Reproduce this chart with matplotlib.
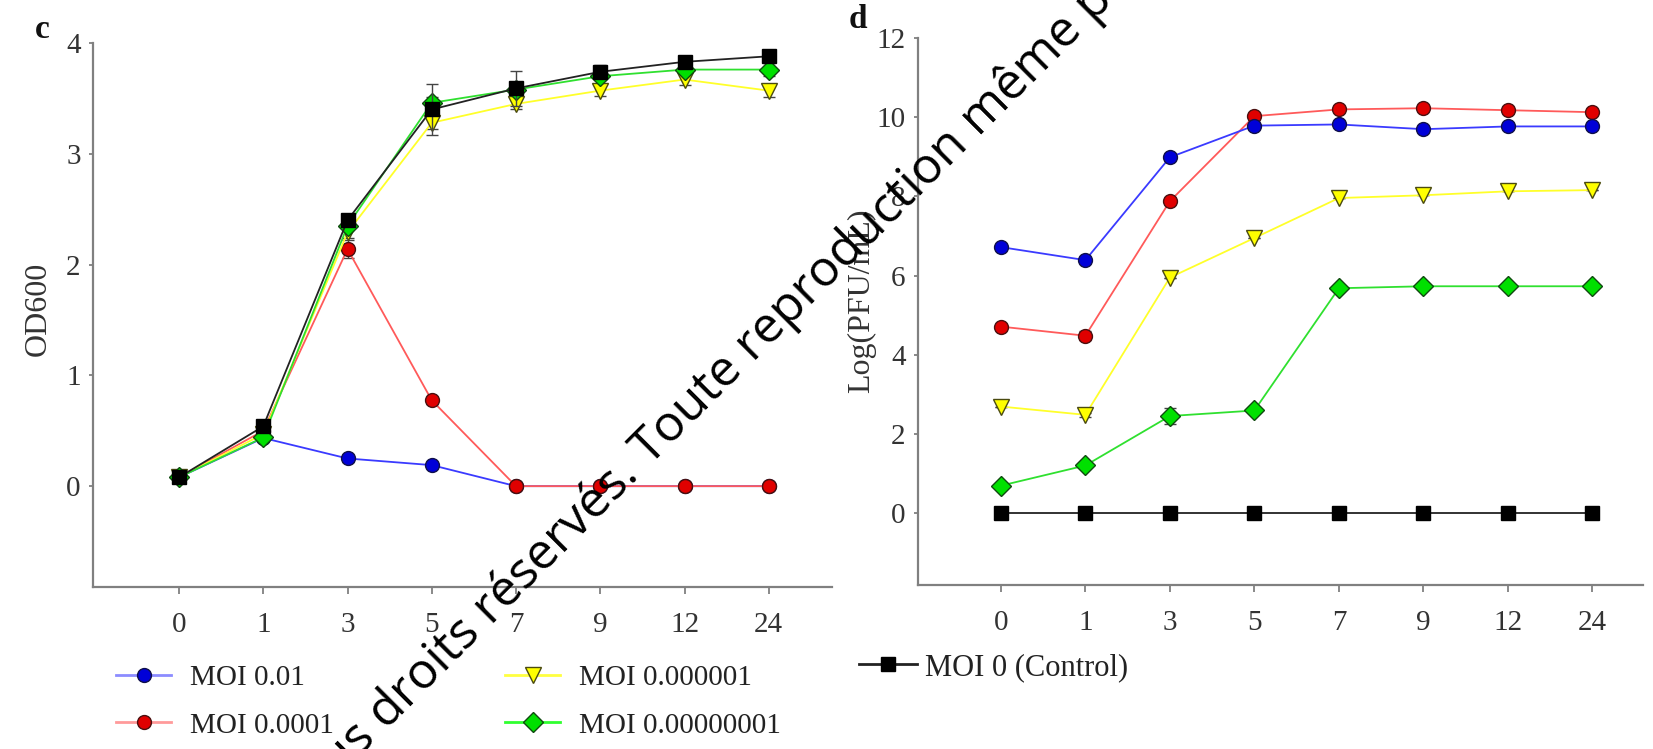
import numpy as np
import matplotlib
matplotlib.use("Agg")
import matplotlib.pyplot as plt
from matplotlib.lines import Line2D

# Sampling times (h), shown as evenly spaced categories
times = ["0", "1", "3", "5", "7", "9", "12", "24"]

series_names = ["MOI 0.01", "MOI 0.0001", "MOI 0.000001", "MOI 0.00000001"]
control_name = "MOI 0 (Control)"

# Panel c: bacterial growth (OD600)
od_moi_001 = [0.08, 0.435, 0.25, 0.19, 0.0, 0.0, 0.0, 0.0]
od_moi_00001 = [0.08, 0.50, 2.14, 0.775, 0.0, 0.0, 0.0, 0.0]
od_moi_1e6 = [0.08, 0.47, 2.29, 3.28, 3.45, 3.57, 3.67, 3.57]
od_moi_1e8 = [0.08, 0.44, 2.35, 3.46, 3.58, 3.70, 3.76, 3.76]
od_control = [0.08, 0.54, 2.40, 3.40, 3.59, 3.74, 3.83, 3.88]

od_err_001 = [0.0, 0.02, 0.03, 0.02, 0.0, 0.0, 0.0, 0.0]
od_err_00001 = [0.0, 0.02, 0.08, 0.03, 0.0, 0.0, 0.0, 0.0]
od_err_1e6 = [0.0, 0.02, 0.05, 0.06, 0.05, 0.05, 0.05, 0.06]
od_err_1e8 = [0.0, 0.02, 0.04, 0.05, 0.04, 0.03, 0.03, 0.06]
od_err_control = [0.0, 0.03, 0.04, 0.23, 0.16, 0.06, 0.04, 0.03]

# Panel d: phage titre, log(PFU/mL)
pfu_moi_001 = [6.72, 6.39, 8.99, 9.79, 9.82, 9.70, 9.77, 9.77]
pfu_moi_00001 = [4.71, 4.48, 7.88, 10.03, 10.20, 10.23, 10.18, 10.13]
pfu_moi_1e6 = [2.69, 2.48, 5.95, 6.95, 7.96, 8.03, 8.13, 8.16]
pfu_moi_1e8 = [0.69, 1.20, 2.45, 2.59, 5.68, 5.73, 5.73, 5.73]
pfu_control = [0.0, 0.0, 0.0, 0.0, 0.0, 0.0, 0.0, 0.0]

pfu_err_001 = [0.0, 0.0, 0.0, 0.0, 0.0, 0.0, 0.0, 0.0]
pfu_err_00001 = [0.0, 0.12, 0.0, 0.0, 0.0, 0.0, 0.0, 0.0]
pfu_err_1e6 = [0.0, 0.05, 0.0, 0.0, 0.0, 0.0, 0.0, 0.0]
pfu_err_1e8 = [0.0, 0.0, 0.2, 0.0, 0.0, 0.0, 0.0, 0.0]
pfu_err_control = [0.0, 0.0, 0.0, 0.0, 0.0, 0.0, 0.0, 0.0]

# Styling per series: (line colour, marker, marker face, marker edge, legend line)
styles = [
    ("#3a3aff", "o", "#0000d8", "#10104a", "#8c8cff"),
    ("#ff5a5a", "o", "#e00000", "#4a1010", "#ff9a9a"),
    ("#ffff2a", "v", "#ffff00", "#4a4a10", "#ffff40"),
    ("#2fe02f", "D", "#00e000", "#104a10", "#30ff30"),
]
control_style = ("#222222", "s", "#000000", "#000000", "#222222")

serif = ["Liberation Serif", "DejaVu Serif"]
plt.rcParams["font.family"] = serif

fig = plt.figure(figsize=(16.53, 7.49), dpi=100)
axL = fig.add_axes([0.0563, 0.2163, 0.447, 0.7263])
axR = fig.add_axes([0.5554, 0.219, 0.4386, 0.730])

x = np.arange(len(times))


def marker_size(style):
    return 11 if style[1] == "v" else (9.5 if style[1] == "s" else 10)


def draw_series(ax, y, err, style, zorder):
    line_c, mk, face, edge, _ = style
    ax.errorbar(x, y, yerr=err, color=line_c, lw=1.3, marker=mk,
                markersize=marker_size(style), markerfacecolor=face,
                markeredgecolor=edge, markeredgewidth=1.0, ecolor="#444444",
                elinewidth=1.0, capsize=4, capthick=1.0, zorder=zorder)


def legend_handle(style):
    _, mk, face, edge, leg_c = style
    return Line2D([], [], color=leg_c, lw=2.0, marker=mk,
                  markersize=marker_size(style), markerfacecolor=face,
                  markeredgecolor=edge, markeredgewidth=1.0)


def style_axes(ax, ylim, xlim, yticks):
    ax.set_xlim(*xlim)
    ax.set_ylim(*ylim)
    ax.set_xticks(x)
    ax.set_xticklabels(times)
    ax.set_yticks(yticks)
    for side in ("top", "right"):
        ax.spines[side].set_visible(False)
    for side in ("left", "bottom"):
        ax.spines[side].set_color("#808080")
        ax.spines[side].set_linewidth(1.6)
    ax.tick_params(axis="x", direction="out", length=5, width=1.3,
                   color="#808080", labelsize=21, labelcolor="#333333", pad=13)
    ax.tick_params(axis="y", direction="out", length=3, width=1.3,
                   color="#808080", labelsize=21, labelcolor="#333333", pad=6)


# Panel c
od_sets = [(od_moi_001, od_err_001), (od_moi_00001, od_err_00001),
           (od_moi_1e6, od_err_1e6), (od_moi_1e8, od_err_1e8)]
for i, ((y, e), st) in enumerate(zip(od_sets, styles)):
    draw_series(axL, y, e, st, 3 + i)
draw_series(axL, od_control, od_err_control, control_style, 8)
style_axes(axL, (-0.91, 4.0), (-1.02, 7.75), [0, 1, 2, 3, 4])
axL.set_ylabel("OD600", fontsize=23, color="#333333")
axL.yaxis.set_label_coords(-0.055, 0.511)

# Panel d
pfu_sets = [(pfu_moi_001, pfu_err_001), (pfu_moi_00001, pfu_err_00001),
            (pfu_moi_1e6, pfu_err_1e6), (pfu_moi_1e8, pfu_err_1e8)]
draw_series(axR, pfu_control, pfu_err_control, control_style, 3)
for i, ((y, e), st) in enumerate(zip(pfu_sets, styles)):
    draw_series(axR, y, e, st, 7 - i)
style_axes(axR, (-1.82, 12.0), (-0.98, 7.6), [0, 2, 4, 6, 8, 10, 12])
axR.set_ylabel("Log(PFU/mL)", fontsize=23, color="#333333")
axR.yaxis.set_label_coords(-0.058, 0.52)

# Panel letters
fig.text(42 / 1653, 1 - 30 / 749, "c", fontsize=24, fontweight="bold",
         ha="center", va="center", color="#111111")
fig.text(858 / 1653, 1 - 20 / 749, "d", fontsize=24, fontweight="bold",
         ha="center", va="center", color="#111111")

# Legends below the panels
fig.legend([legend_handle(s) for s in styles], series_names, ncol=2,
           loc="upper left", bbox_to_anchor=(116 / 1653, 1 - 665 / 749),
           frameon=False, fontsize=21, handlelength=1.9, handletextpad=0.65,
           columnspacing=5.85, labelspacing=0.71, borderpad=0,
           borderaxespad=0, labelcolor="#222222")

fig.legend([legend_handle(control_style)], [control_name], loc="upper left",
           bbox_to_anchor=(859 / 1653, 1 - 653 / 749), frameon=False,
           fontsize=22, handlelength=1.9, handletextpad=0.26, borderpad=0,
           borderaxespad=0, labelcolor="#222222")

# Diagonal rights notice across the figure
wm_font = ["Open Sans", "DejaVu Sans"]
wm_size = 36
ang = 45
ax0, ay0 = 650 / 1653, 1 - 467 / 749
gap = 13
fig.text((650 - gap * np.cos(np.radians(ang))) / 1653,
         1 - (467 + gap * np.sin(np.radians(ang))) / 749,
         "Tous droits réservés.", family=wm_font, fontsize=wm_size,
         color="black", rotation=ang, rotation_mode="anchor", ha="right",
         va="baseline", zorder=20)
fig.text(ax0, ay0, "Toute reproduction même partielle interdite",
         family=wm_font, fontsize=wm_size, color="black", rotation=ang,
         rotation_mode="anchor", ha="left", va="baseline", zorder=20)

fig.savefig("out.png", dpi=100, facecolor="white")
